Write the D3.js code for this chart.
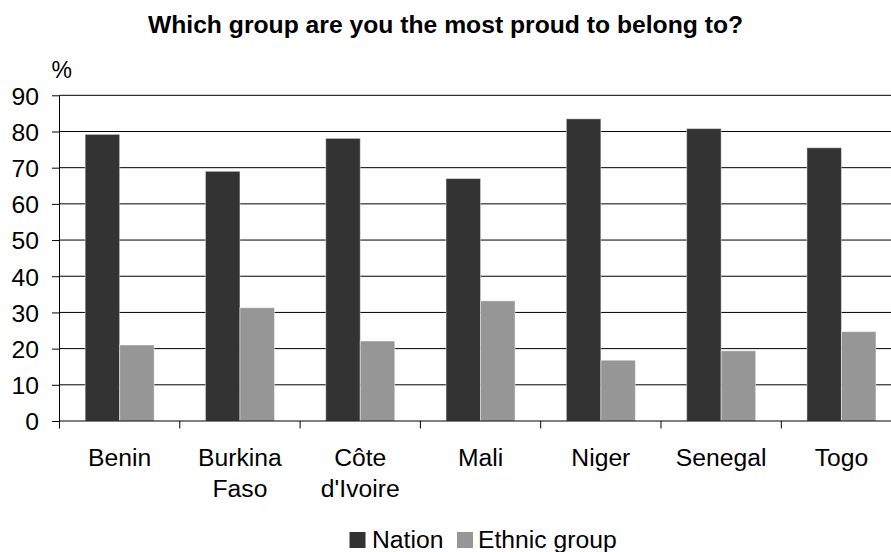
<!DOCTYPE html>
<html>
<head>
<meta charset="utf-8">
<script src="https://cdn.jsdelivr.net/npm/d3@7"></script>
<style>
  html, body { margin: 0; padding: 0; background: #fff; }
  svg { display: block; font-family: "Liberation Sans", Arial, sans-serif; }
</style>
</head>
<body>
<svg id="chart" width="891" height="552"></svg>
<script>
const categories = [["Benin"], ["Burkina", "Faso"], ["Côte", "d'Ivoire"], ["Mali"], ["Niger"], ["Senegal"], ["Togo"]];
const seriesNames = ["Nation", "Ethnic group"];
const nationValues = [79.2, 69.0, 78.1, 67.0, 83.5, 80.8, 75.5];
const ethnicValues = [21.0, 31.3, 22.1, 33.2, 16.8, 19.4, 24.7];
const yTicks = [0, 10, 20, 30, 40, 50, 60, 70, 80, 90];
const colors = ["#333333", "#969696"];
const titleText = "Which group are you the most proud to belong to?";

(function () {
const svg = d3.select("#chart");
const pLeft = 59.5, pRight = 901.6, pTop = 95.3, pBottom = 421;
const fs = 24.7;
const catKeys = categories.map(c => c.join(" "));
const seriesValues = [nationValues, ethnicValues];

const x0 = d3.scaleBand().domain(catKeys).range([pLeft, pRight]).paddingInner(0).paddingOuter(0);
const x1 = d3.scaleBand().domain(seriesNames).range([0, x0.bandwidth()]).paddingInner(0).paddingOuter(0.743);
const y = d3.scaleLinear().domain([0, 90]).range([pBottom, pTop]);

// Title
svg.append("text").attr("x", 445.5).attr("y", 32.7).attr("text-anchor", "middle")
  .attr("font-size", fs).attr("font-weight", "bold").attr("fill", "#000").text(titleText);

// "%" label
svg.append("text").attr("x", 51.5).attr("y", 78.3).attr("font-size", 23).attr("fill", "#000").text("%");

// Gridlines
svg.append("g").selectAll("line").data(yTicks.filter(t => t > 0)).join("line")
  .attr("x1", pLeft).attr("x2", 891).attr("y1", d => y(d)).attr("y2", d => y(d))
  .attr("stroke", "#000").attr("stroke-width", 1);

// Bars
const groups = svg.append("g").selectAll("g").data(catKeys).join("g")
  .attr("transform", d => `translate(${x0(d)},0)`);
groups.selectAll("rect").data((d, i) => seriesNames.map((s, j) => ({ s, j, v: seriesValues[j][i] }))).join("rect")
  .attr("x", d => x1(d.s)).attr("width", x1.bandwidth())
  .attr("y", d => y(d.v)).attr("height", d => y(0) - y(d.v))
  .attr("fill", d => colors[d.j])
  .attr("stroke", "#fff").attr("stroke-opacity", 0.45).attr("stroke-width", 1);

// Y axis
const yAxis = d3.axisLeft(y).tickValues(yTicks).tickSize(7.5).tickPadding(13).tickFormat(d3.format("d"));
const gy = svg.append("g").attr("transform", `translate(${pLeft},0)`).call(yAxis);
gy.select(".domain").attr("stroke", "#000").attr("d", `M0,${pTop}V${pBottom}`);
gy.selectAll(".tick line").attr("stroke", "#000");
gy.selectAll(".tick text").attr("font-size", fs).attr("font-family", "Liberation Sans, Arial, sans-serif").attr("fill", "#000").attr("dy", "0.355em");

// X axis
const xTickPos = d3.range(catKeys.length + 1).map(i => pLeft + i * x0.step());
svg.append("line").attr("x1", pLeft).attr("x2", 891).attr("y1", pBottom).attr("y2", pBottom).attr("stroke", "#000");
svg.append("g").selectAll("line").data(xTickPos).join("line")
  .attr("x1", d => d).attr("x2", d => d).attr("y1", pBottom).attr("y2", pBottom + 7.5).attr("stroke", "#000");

// Category labels
const labels = svg.append("g").selectAll("text").data(categories).join("text")
  .attr("x", (d, i) => x0(catKeys[i]) + x0.bandwidth() / 2).attr("y", 465.7)
  .attr("text-anchor", "middle").attr("font-size", fs).attr("fill", "#000");
labels.selectAll("tspan").data(d => d).join("tspan")
  .attr("x", function () { return d3.select(this.parentNode).attr("x"); })
  .attr("dy", (d, i) => i === 0 ? 0 : 31).text(d => d);

// Legend
const legendItems = [{ name: seriesNames[0], sx: 349.5, tx: 372 }, { name: seriesNames[1], sx: 457, tx: 478 }];
const lg = svg.append("g").selectAll("g").data(legendItems).join("g");
lg.append("rect").attr("x", d => d.sx).attr("y", 532).attr("width", 16).attr("height", 16)
  .attr("fill", (d, i) => colors[i]);
lg.append("text").attr("x", d => d.tx).attr("y", 548).attr("font-size", fs).attr("fill", "#000").text(d => d.name);
})();
</script>
</body>
</html>
